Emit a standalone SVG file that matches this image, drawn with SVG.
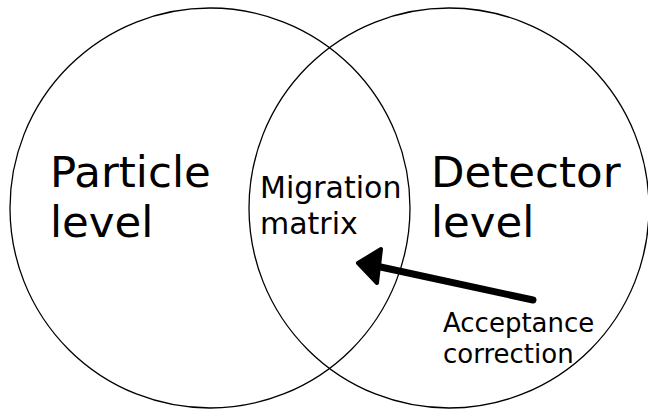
<svg xmlns="http://www.w3.org/2000/svg" width="648" height="410" viewBox="0 0 648 410">
  <style>
    .set { fill: none; stroke: #000; stroke-width: 1.3; }
    .big { font-family: "DejaVu Sans", sans-serif; font-size: 43.5px; fill: #000; }
    .mid { font-family: "DejaVu Sans", sans-serif; font-size: 30px; fill: #000; }
    .small { font-family: "DejaVu Sans", sans-serif; font-size: 26px; fill: #000; }
    .shaft { fill: none; stroke: #000; stroke-width: 7; stroke-linecap: round; }
    .head { fill: #000; stroke: #000; stroke-width: 4; stroke-linejoin: round; }
  </style>
  <rect width="648" height="410" fill="#fff"/>

  <!-- Particle level set -->
  <g id="particle-level">
    <circle class="set" cx="210" cy="208" r="200"/>
    <text class="big" x="50" y="187">Particle</text>
    <text class="big" x="50" y="237">level</text>
  </g>

  <!-- Detector level set -->
  <g id="detector-level">
    <circle class="set" cx="449" cy="208" r="200"/>
    <text class="big" x="431" y="187">Detector</text>
    <text class="big" x="431" y="237">level</text>
  </g>

  <!-- Overlap region -->
  <g id="migration-matrix">
    <text class="mid" x="260" y="198">Migration</text>
    <text class="mid" x="260" y="234">matrix</text>
  </g>

  <g id="acceptance-correction">
    <text class="small" x="443" y="332">Acceptance</text>
    <text class="small" x="443" y="363">correction</text>
  </g>

  <!-- Connectors -->
  <g id="connectors">
    <line class="shaft" x1="533" y1="300" x2="376" y2="266"/>
    <polygon class="head" points="358,263 381,249 377,283"/>
  </g>
</svg>
